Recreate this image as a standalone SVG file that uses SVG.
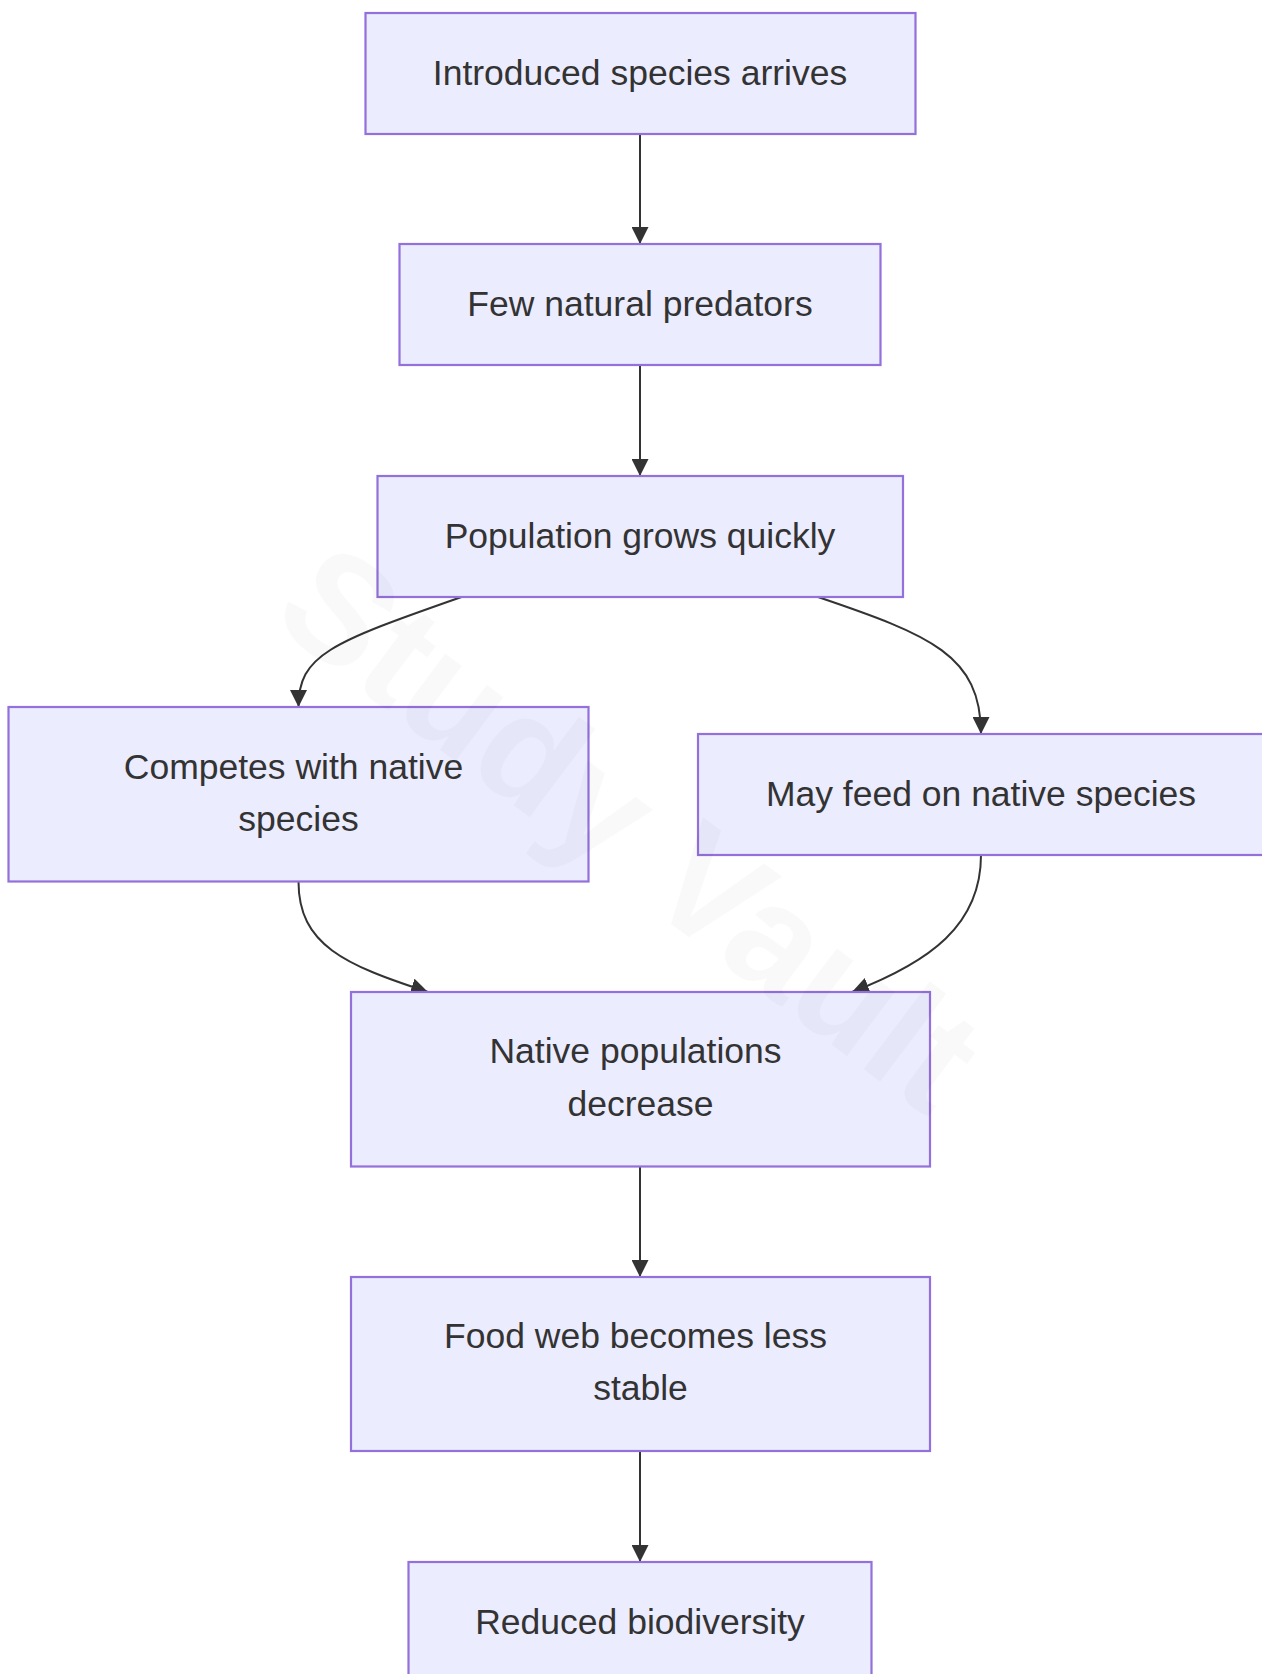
<svg xmlns="http://www.w3.org/2000/svg" width="1262" height="1674" viewBox="0 0 1262 1674">
  <style>
    .node rect { fill: #ECECFF; stroke: #9370DB; stroke-width: 2.2; }
    .node text { font-family: "Liberation Sans", Arial, sans-serif; font-size: 35.5px; fill: #333333; text-anchor: middle; }
    .edge { fill: none; stroke: #333333; stroke-width: 2; }
    .wm { font-family: "Liberation Sans", Arial, sans-serif; font-weight: bold; font-size: 152px; fill: #000000; fill-opacity: 0.022; text-anchor: middle; }
  </style>
  <defs>
    <marker id="arrow" viewBox="0 0 10 10" refX="10" refY="5" markerUnits="userSpaceOnUse" markerWidth="17" markerHeight="17" orient="auto">
      <path d="M 0 0 L 10 5 L 0 10 z" fill="#333333"/>
    </marker>
  </defs>
  <rect x="0" y="0" width="1262" height="1674" fill="#ffffff"/>

  <g id="edges">
    <path class="edge" d="M 640 134 L 640 244" marker-end="url(#arrow)"/>
    <path class="edge" d="M 640 365 L 640 476" marker-end="url(#arrow)"/>
    <path class="edge" d="M 461.5 597 C 330 643, 298.5 655, 298.5 707" marker-end="url(#arrow)"/>
    <path class="edge" d="M 818 597 C 930 635, 981 655, 981 734" marker-end="url(#arrow)"/>
    <path class="edge" d="M 298.5 881.5 C 298.5 945, 345 965, 428 992" marker-end="url(#arrow)"/>
    <path class="edge" d="M 981 855 C 981 925, 930 962, 852 992" marker-end="url(#arrow)"/>
    <path class="edge" d="M 640 1166.5 L 640 1277" marker-end="url(#arrow)"/>
    <path class="edge" d="M 640 1451 L 640 1562" marker-end="url(#arrow)"/>
  </g>

  <g id="n1" class="node">
    <rect x="365.5" y="13" width="550" height="121"/>
    <text x="640" y="85">Introduced species arrives</text>
  </g>
  <g id="n2" class="node">
    <rect x="399.5" y="244" width="481" height="121"/>
    <text x="640" y="316">Few natural predators</text>
  </g>
  <g id="n3" class="node">
    <rect x="377.5" y="476" width="525.5" height="121"/>
    <text x="640" y="548">Population grows quickly</text>
  </g>
  <g id="n4" class="node">
    <rect x="8.5" y="707" width="580" height="174.5"/>
    <text x="293.5" y="778.5">Competes with native</text>
    <text x="298.5" y="831">species</text>
  </g>
  <g id="n5" class="node">
    <rect x="698" y="734" width="566" height="121"/>
    <text x="981" y="806">May feed on native species</text>
  </g>
  <g id="n6" class="node">
    <rect x="351" y="992" width="579" height="174.5"/>
    <text x="635.5" y="1063">Native populations</text>
    <text x="640.5" y="1115.5">decrease</text>
  </g>
  <g id="n7" class="node">
    <rect x="351" y="1277" width="579" height="174"/>
    <text x="635.5" y="1347.5">Food web becomes less</text>
    <text x="640.5" y="1400">stable</text>
  </g>
  <g id="n8" class="node">
    <rect x="408.5" y="1562" width="463" height="121"/>
    <text x="640" y="1634">Reduced biodiversity</text>
  </g>

  <text class="wm" x="0" y="0" transform="translate(630 828) rotate(37) translate(0 52)">Study Vault</text>
</svg>
